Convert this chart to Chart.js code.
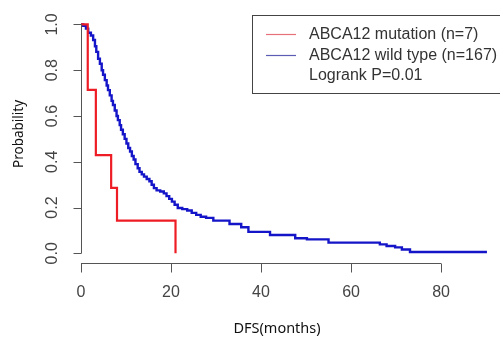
<!DOCTYPE html>
<html><head><meta charset="utf-8">
<script src="https://cdn.jsdelivr.net/npm/chart.js@4/dist/chart.umd.min.js"></script>
<style>html,body{margin:0;padding:0;background:#fff}#wrap{width:500px;height:340px;position:relative}</style>
</head><body><div id="wrap"><canvas id="c" width="500" height="340"></canvas></div>
<script>
// Data (time in months, survival probability after the drop)
const mutTimes = [0, 1.5, 3.3, 6.7, 8.0, 21.0];
const mutProb  = [1, 0.714, 0.429, 0.286, 0.143, 0];
const wtTimes = [0, 0.5, 1.1, 1.6, 2.2, 2.7, 3.1, 3.4, 3.8, 4.2, 4.6, 4.9, 5.3, 5.7, 6.0, 6.4, 6.8, 7.1, 7.5, 7.9, 8.2, 8.6, 8.9, 9.3, 9.7, 10.1, 10.5, 10.9, 11.3, 11.7, 12.1, 12.6, 13.0, 13.5, 14.0, 14.6, 15.2, 15.7, 16.2, 16.8, 17.6, 18.4, 19.0, 19.6, 20.2, 20.8, 21.5, 22.5, 23.6, 24.6, 25.6, 26.6, 27.8, 29.4, 33.0, 35.6, 37.2, 42.0, 47.6, 50.2, 55.0, 66.4, 67.9, 69.8, 71.3, 73.1, 90.2];
const wtProb  = [1, 0.994, 0.982, 0.964, 0.952, 0.932, 0.905, 0.88, 0.85, 0.828, 0.80, 0.78, 0.757, 0.733, 0.713, 0.69, 0.666, 0.648, 0.624, 0.60, 0.582, 0.56, 0.54, 0.52, 0.50, 0.48, 0.46, 0.445, 0.425, 0.41, 0.39, 0.372, 0.356, 0.345, 0.335, 0.325, 0.315, 0.30, 0.285, 0.275, 0.27, 0.262, 0.25, 0.238, 0.226, 0.212, 0.198, 0.193, 0.187, 0.177, 0.168, 0.16, 0.155, 0.143, 0.128, 0.114, 0.094, 0.08, 0.066, 0.061, 0.047, 0.039, 0.032, 0.026, 0.017, 0.006, 0.006];
const seriesLabels = ['ABCA12 mutation (n=7)', 'ABCA12 wild type (n=167)'];
const extraLegendText = 'Logrank P=0.01';
const xTicks = [0, 20, 40, 60, 80];
const yTicks = [0, 0.2, 0.4, 0.6, 0.8, 1.0];
const yTickLabels = ['0.0', '0.2', '0.4', '0.6', '0.8', '1.0'];
const xTitle = 'DFS(months)';
const yTitle = 'Probability';

const colors = ['#ee1c24', '#1414c8'];
const legendColors = ['#e8707a', '#5c5cb4'];

const toPts = (ts, ps) => ts.map((t, i) => ({x: t, y: ps[i]}));

const axisPlugin = {
  id: 'rAxes',
  afterDraw(chart) {
    const ctx = chart.ctx, xs = chart.scales.x, ys = chart.scales.y;
    const ca = chart.chartArea;
    ctx.save();
    ctx.strokeStyle = '#555';
    ctx.lineWidth = 1;
    ctx.fillStyle = '#444';
    // y axis
    const yx = Math.round(xs.getPixelForValue(0)) + 0.5;
    ctx.beginPath();
    ctx.moveTo(yx, ys.getPixelForValue(yTicks[0]));
    ctx.lineTo(yx, ys.getPixelForValue(yTicks[yTicks.length - 1]));
    yTicks.forEach(v => {
      const py = Math.round(ys.getPixelForValue(v)) + 0.5;
      ctx.moveTo(yx, py); ctx.lineTo(yx - 8, py);
    });
    ctx.stroke();
    ctx.font = '16px "Liberation Sans", Arial, sans-serif';
    ctx.textAlign = 'center'; ctx.textBaseline = 'middle';
    yTicks.forEach((v, i) => {
      const py = ys.getPixelForValue(v);
      ctx.save(); ctx.translate(53, py); ctx.rotate(-Math.PI / 2);
      ctx.fillText(yTickLabels[i], 0, 0); ctx.restore();
    });
    // x axis
    const xy = Math.round(ca.bottom + 0.8) + 0.5;
    ctx.beginPath();
    ctx.moveTo(xs.getPixelForValue(xTicks[0]), xy);
    ctx.lineTo(xs.getPixelForValue(xTicks[xTicks.length - 1]), xy);
    xTicks.forEach(v => {
      const px = Math.round(xs.getPixelForValue(v)) + 0.5;
      ctx.moveTo(px, xy); ctx.lineTo(px, xy + 9);
    });
    ctx.stroke();
    xTicks.forEach(v => ctx.fillText(String(v), xs.getPixelForValue(v), 293));
    // titles
    ctx.fillStyle = '#111';
    ctx.font = '14.5px "Noto Sans", "Open Sans", sans-serif';
    ctx.fillText(xTitle, 277, 329);
    ctx.save(); ctx.translate(19, 134); ctx.rotate(-Math.PI / 2);
    ctx.font = '13.5px "Noto Sans", "Open Sans", sans-serif';
    ctx.fillText(yTitle, 0, 0); ctx.restore();
    // legend box
    ctx.strokeStyle = '#444';
    ctx.strokeRect(252.5, 15.5, 260, 78);
    ctx.font = '16px "Liberation Sans", Arial, sans-serif';
    ctx.textAlign = 'left';
    ctx.fillStyle = '#333';
    const rows = [34.5, 55.5, 76];
    seriesLabels.forEach((lab, i) => {
      ctx.strokeStyle = legendColors[i];
      ctx.lineWidth = 1.2;
      ctx.beginPath(); ctx.moveTo(266, rows[i]); ctx.lineTo(296, rows[i]); ctx.stroke();
      ctx.fillText(lab, 309, rows[i]);
    });
    ctx.fillText(extraLegendText, 309, rows[2]);
    ctx.restore();
  }
};

new Chart(document.getElementById('c'), {
  type: 'line',
  data: {
    datasets: [
      {label: seriesLabels[0], data: toPts(mutTimes, mutProb), borderColor: colors[0], borderWidth: 2.2, stepped: 'before', pointRadius: 0, fill: false},
      {label: seriesLabels[1], data: toPts(wtTimes, wtProb), borderColor: colors[1], borderWidth: 2.4, stepped: 'before', pointRadius: 0, fill: false}
    ]
  },
  options: {
    responsive: false, animation: false,
    layout: {padding: {left: 81, right: 0, top: 15.3, bottom: 77.5}},
    scales: {
      x: {type: 'linear', min: 0, max: 93.1, display: false},
      y: {type: 'linear', min: -0.04, max: 1.04, display: false}
    },
    plugins: {legend: {display: false}, tooltip: {enabled: false}}
  },
  plugins: [axisPlugin]
});
</script></body></html>
